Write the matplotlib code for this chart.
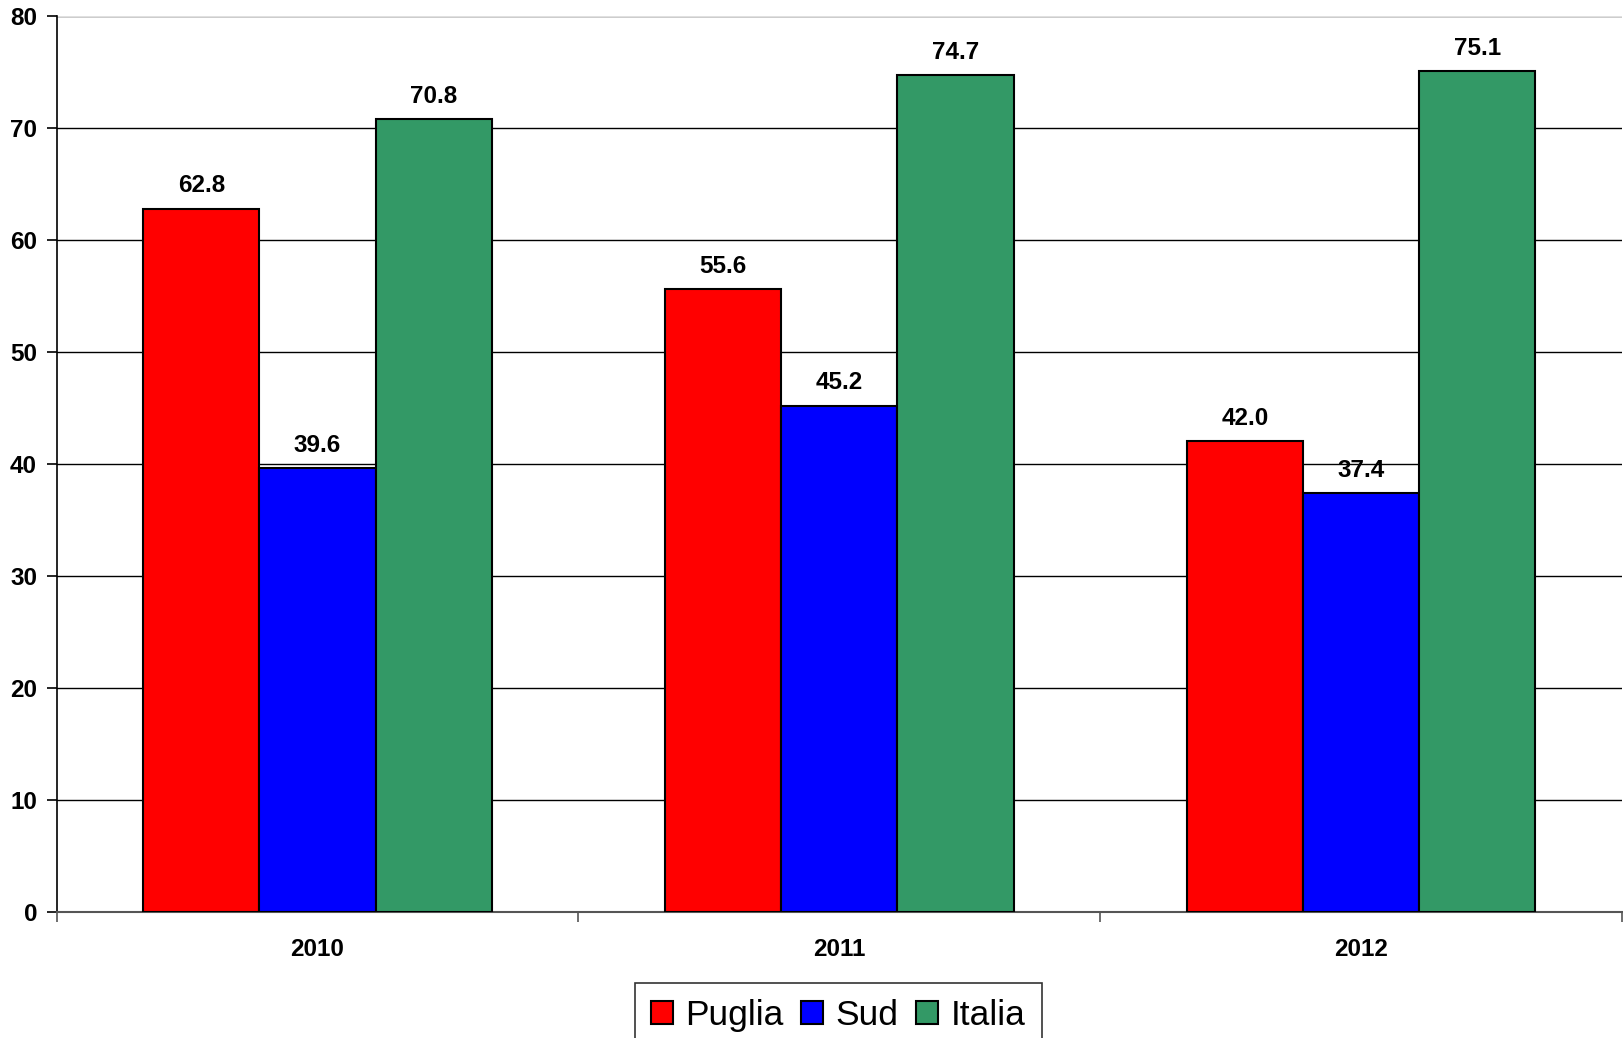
import matplotlib
matplotlib.use("Agg")
import matplotlib.pyplot as plt
import numpy as np

years = ["2010", "2011", "2012"]
series_names = ["Puglia", "Sud", "Italia"]
puglia = [62.8, 55.6, 42.0]
sud = [39.6, 45.2, 37.4]
italia = [70.8, 74.7, 75.1]
colors = ["#FF0000", "#0000FF", "#339966"]
yticks = [0, 10, 20, 30, 40, 50, 60, 70, 80]

plt.rcParams['font.family'] = ['Liberation Sans', 'DejaVu Sans']

fig = plt.figure(figsize=(16.23, 10.38), dpi=100)
ax = fig.add_axes([56.5/1623, 1 - 911.7/1038, 1 - 56.5/1623 - 0.0005, (911.7 - 16)/1038])

x = np.arange(len(years))
w = 0.2225
data = [puglia, sud, italia]
for i, (vals, name, c) in enumerate(zip(data, series_names, colors)):
    pos = x + (i - 1) * w
    bars = ax.bar(pos, vals, width=w, color=c, edgecolor="black", linewidth=1.5, label=name, zorder=3)
    for b, v in zip(bars, vals):
        ax.text(b.get_x() + b.get_width() / 2, v + 1.0, f"{v:.1f}", ha="center", va="bottom",
                fontsize=17.5, fontweight="bold", zorder=4)

ax.set_xlim(-0.5, 2.5)
ax.set_ylim(0, 80)
ax.set_yticks(yticks)
ax.set_yticklabels([str(t) for t in yticks], fontsize=17.5, fontweight="bold")
ax.yaxis.grid(True, color="black", linewidth=1.0, zorder=0)
ax.set_axisbelow(True)

# category ticks at boundaries, labels at centers
ax.set_xticks([-0.5, 0.5, 1.5, 2.5])
ax.set_xticklabels([])
ax.set_xticks(x, minor=True)
ax.set_xticklabels(years, minor=True, fontsize=17.5, fontweight="bold")
ax.tick_params(axis="x", which="minor", length=0, pad=19)
ax.tick_params(axis="x", which="major", length=7, width=1.2, color="#555555", direction="out")
ax.tick_params(axis="y", length=7, width=1.2, direction="out", pad=7)

for s in ["top", "right"]:
    ax.spines[s].set_visible(False)
ax.spines["left"].set_color("black")
ax.spines["left"].set_linewidth(1.2)
ax.spines["bottom"].set_color("#555555")
ax.spines["bottom"].set_linewidth(1.5)
# light top line at 80
ax.axhline(80, color="#e0e0e0", linewidth=1.5, zorder=1)

leg = fig.legend(loc="upper center", bbox_to_anchor=(0.5165, 1 - 983/1038), ncol=3, fontsize=25.5,
                 frameon=True, fancybox=False, edgecolor="black", handlelength=0.62, handleheight=0.62,
                 handletextpad=0.35, columnspacing=0.5, borderpad=0.45, borderaxespad=0)
leg.get_frame().set_linewidth(1.2)

fig.savefig("out.png", dpi=100)
